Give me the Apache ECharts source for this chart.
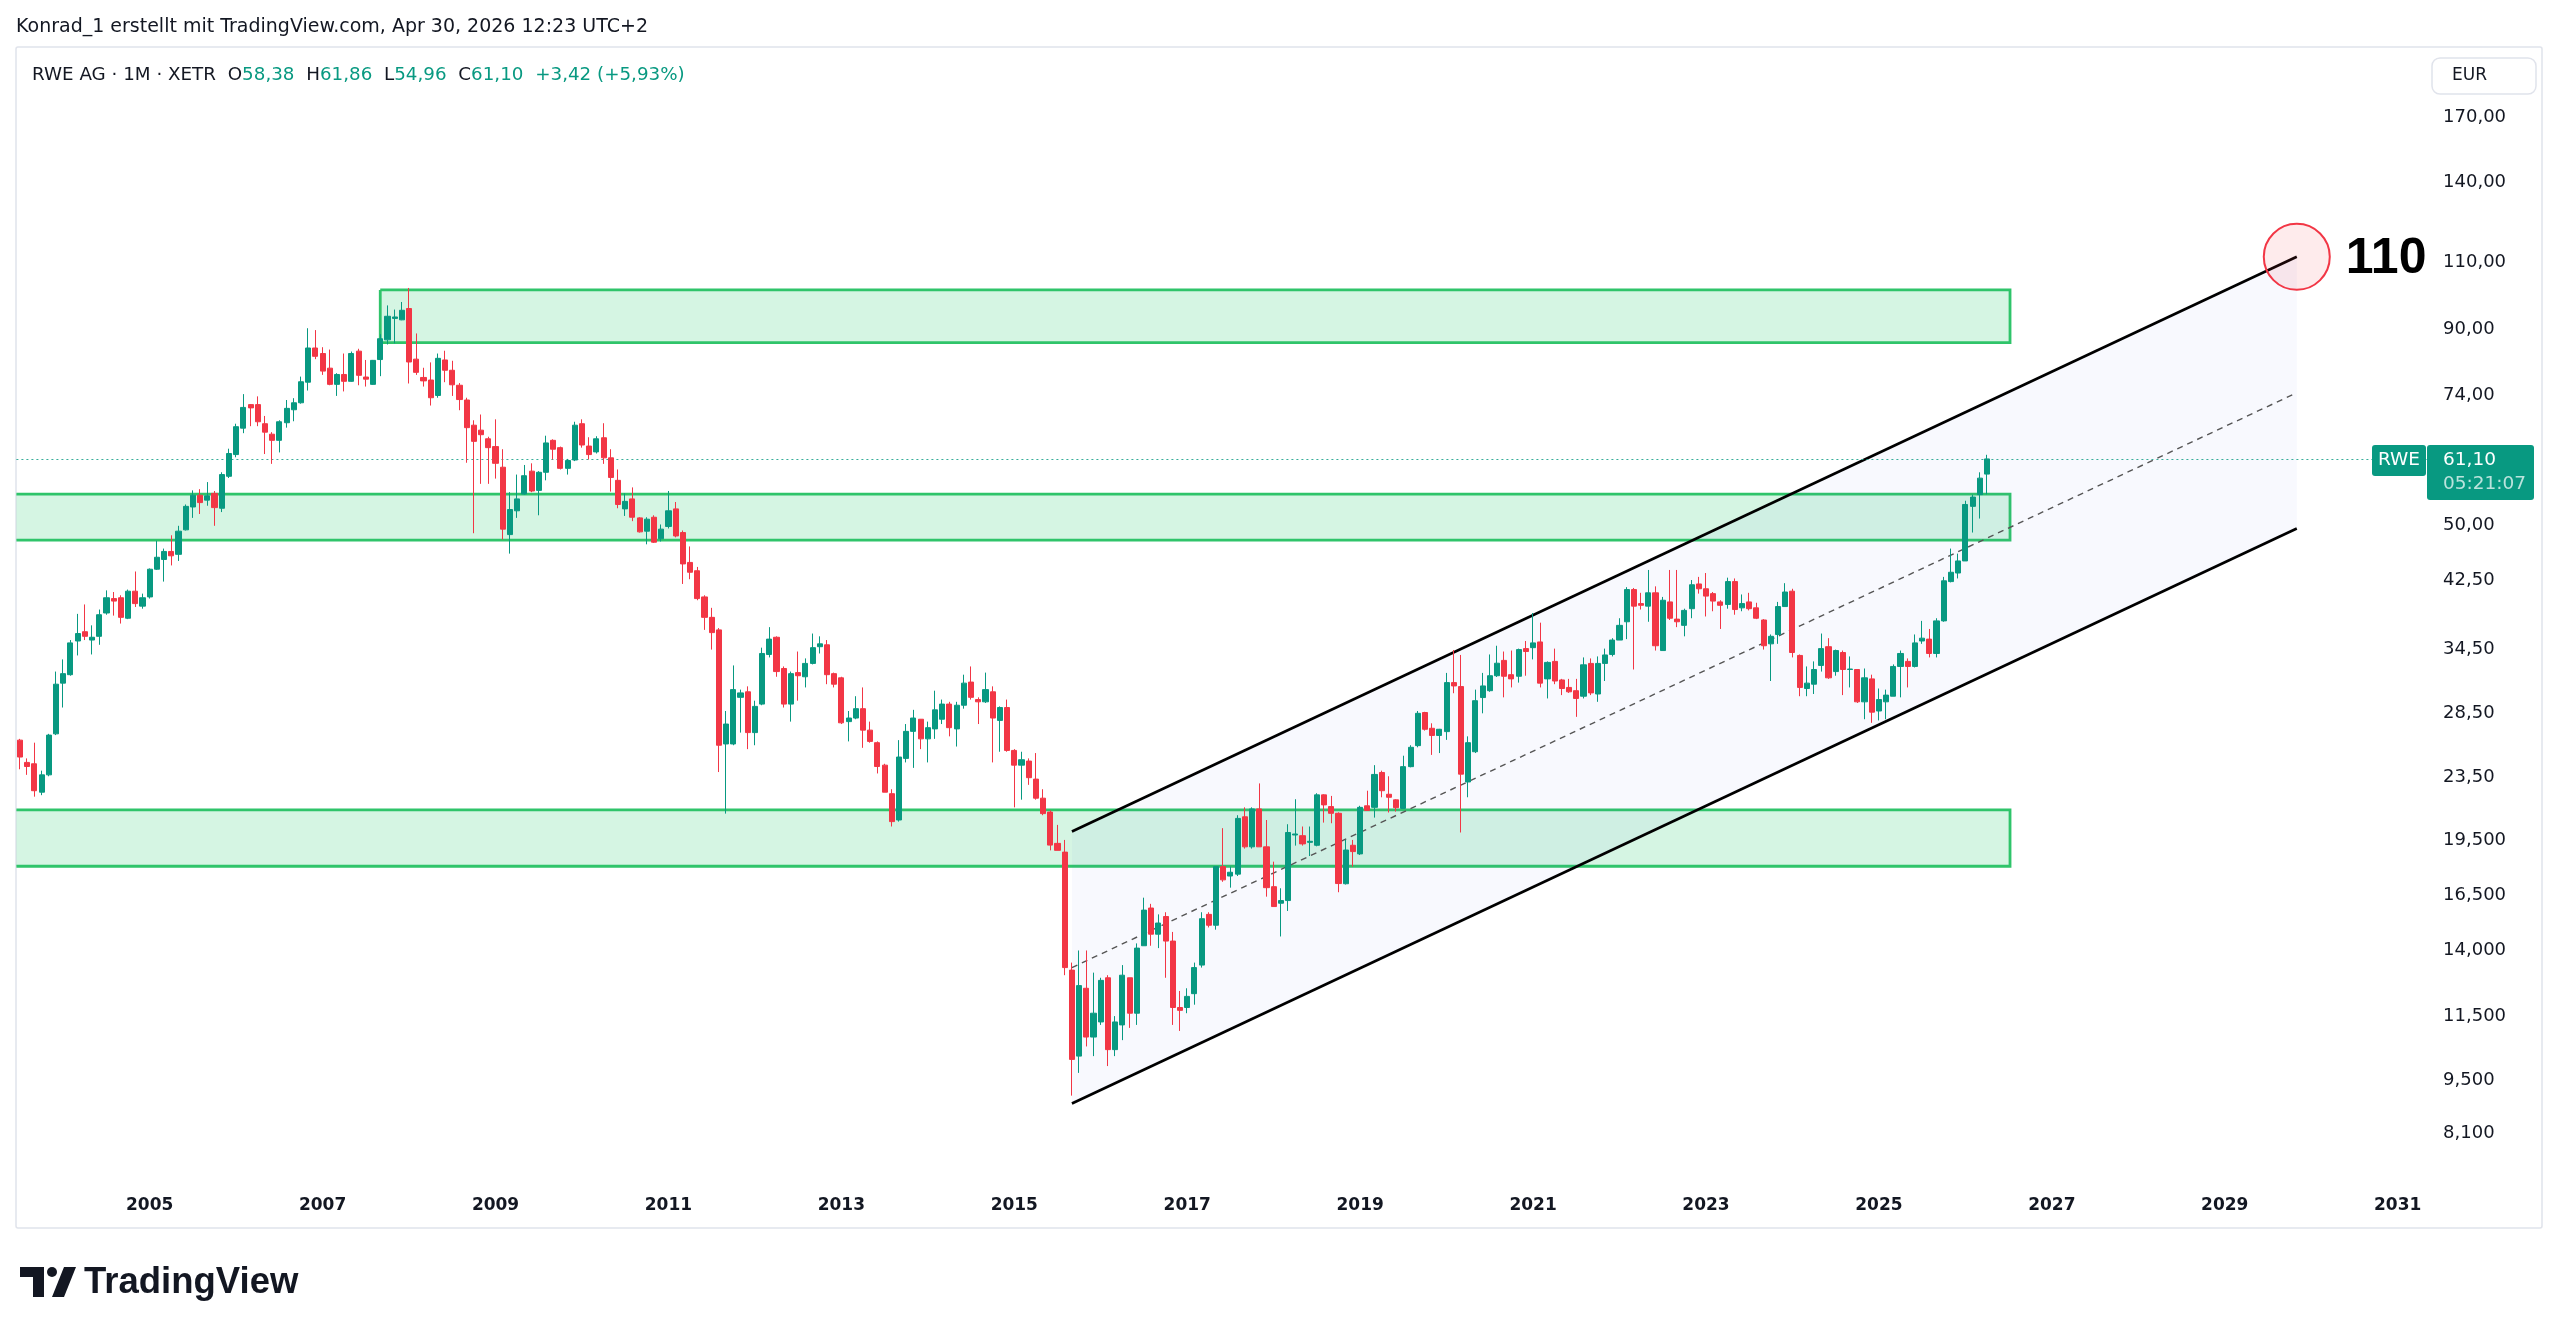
<!DOCTYPE html>
<html>
<head>
<meta charset="utf-8">
<title>RWE AG · 1M · XETR</title>
<script src="https://cdn.jsdelivr.net/npm/echarts@6/dist/echarts.min.js"></script>
<style>
html, body { margin: 0; padding: 0; background: #fff; }
#chart { width: 2560px; height: 1335px; }
</style>
</head>
<body>
<div id="chart"></div>
<script>
// monthly candles, first one is 2003-07
var firstMonth = [2003, 7];
var monthSlots = 335; // time axis runs on into 2031

var openPrices = [
  26.3, 24.6, 24.5, 22.5, 23.7, 26.8,
  31.2, 32.0, 35.4, 36.4, 35.5, 35.9, 38.5, 40.2, 40.3, 37.9, 41.1, 39.3,
  40.4, 43.9, 45.2, 46.3, 45.9, 49.4, 52.9, 54.8, 54.0, 55.1, 52.7, 58.0,
  61.9, 67.0, 71.9, 71.9, 67.9, 65.8, 64.6, 68.1, 70.8, 72.3, 76.9, 85.2,
  83.8, 80.2, 76.4, 78.7, 77.1, 84.4, 78.1, 76.4, 82.3, 87.3, 93.1, 92.7,
  95.9, 82.4, 78.0, 77.4, 73.9, 82.2, 79.7, 76.2, 72.9, 67.6, 66.6, 64.9,
  63.4, 59.6, 48.7, 52.3, 55.0, 58.9, 55.6, 58.7, 64.6, 63.2, 59.4, 60.9,
  67.9, 63.5, 62.4, 65.1, 61.3, 57.3, 52.6, 54.2, 51.2, 49.2, 51.3, 48.1,
  49.9, 52.6, 49.0, 44.8, 43.7, 40.4, 38.0, 36.6, 26.0, 26.0, 29.9, 30.4,
  26.9, 29.3, 34.0, 35.8, 32.6, 29.3, 32.2, 31.8, 33.1, 34.8, 35.0, 32.1,
  31.7, 27.8, 28.1, 28.9, 27.1, 26.1, 24.4, 22.4, 20.7, 24.9, 27.0, 28.0,
  26.4, 27.2, 28.0, 29.3, 27.2, 29.2, 31.3, 29.7, 29.5, 30.4, 27.9, 29.0,
  25.5, 24.4, 24.7, 23.4, 22.1, 21.2, 19.3, 18.8, 13.2, 10.2, 12.5, 10.8,
  11.3, 12.9, 10.4, 11.2, 12.9, 11.6, 14.2, 15.9, 14.7, 15.5, 14.4, 11.8,
  11.8, 12.3, 13.4, 15.6, 15.1, 18.0, 17.5, 17.6, 20.9, 19.1, 21.4, 19.1,
  16.95, 16.13, 16.26, 19.79, 19.75, 19.36, 19.19, 22.32, 21.55, 21.12, 17.1, 19.19,
  18.7, 21.6, 21.5, 23.87, 22.36, 21.99, 21.43, 24.29, 25.87, 28.57, 27.25, 26.67,
  26.98, 31.25, 30.88, 23.2, 25.4, 29.88, 30.5, 31.9, 33.4, 32.0, 31.85, 34.6,
  34.7, 35.3, 31.6, 33.3, 31.5, 30.8, 30.5, 30.0, 33.1, 30.2, 33.1, 34.0,
  35.5, 37.5, 41.3, 39.6, 39.3, 40.9, 34.4, 39.8, 37.8, 37.1, 39.0, 42.0,
  41.4, 40.8, 39.8, 39.5, 42.3, 39.1, 39.8, 39.1, 37.7, 35.1, 36.1, 39.25,
  41.1, 33.9, 30.7, 31.1, 32.9, 34.8, 32.3, 34.2, 32.5, 32.5, 29.5, 31.6,
  28.7, 29.5, 30.0, 32.8, 33.3, 32.8, 35.4, 35.6, 34.1, 37.6, 42.3, 43.4,
  45.0, 53.0, 54.9, 58.38
];
var highPrices = [
  26.4, 24.9, 26.1, 24.0, 26.8, 32.3,
  33.5, 35.5, 38.4, 39.5, 37.1, 38.9, 41.2, 41.0, 40.6, 41.3, 43.6, 40.8,
  44.0, 47.8, 46.7, 48.6, 50.0, 53.3, 55.6, 55.8, 57.0, 55.5, 58.7, 63.0,
  67.9, 74.2, 72.0, 73.7, 69.5, 66.2, 68.6, 72.9, 73.3, 78.2, 90.4, 89.9,
  85.4, 84.8, 79.0, 83.8, 84.3, 85.0, 82.2, 82.2, 88.8, 96.8, 95.6, 97.8,
  102.0, 89.0, 80.3, 81.6, 83.8, 84.5, 82.0, 76.7, 73.4, 68.6, 69.8, 65.3,
  68.8, 62.9, 55.3, 58.3, 60.0, 60.3, 58.9, 65.5, 64.8, 63.4, 61.1, 68.3,
  68.8, 65.2, 65.4, 68.0, 62.9, 59.2, 55.1, 56.1, 51.3, 51.3, 51.6, 50.2,
  55.5, 53.7, 49.3, 47.0, 44.2, 40.6, 39.1, 36.8, 28.7, 32.9, 30.6, 30.9,
  29.6, 34.7, 36.9, 35.9, 32.8, 32.3, 34.3, 33.6, 36.2, 35.9, 35.5, 32.2,
  31.8, 28.7, 30.0, 30.8, 27.8, 26.2, 24.5, 22.7, 26.3, 27.6, 28.8, 28.0,
  27.8, 30.5, 29.7, 29.5, 29.5, 32.0, 32.8, 29.9, 32.2, 30.9, 29.1, 29.7,
  25.6, 25.4, 24.9, 25.3, 22.7, 21.3, 20.4, 19.5, 13.5, 14.0, 14.0, 13.1,
  12.9, 13.0, 11.5, 13.4, 12.9, 14.3, 16.4, 16.1, 15.6, 15.7, 14.8, 12.4,
  12.5, 13.5, 15.7, 15.7, 18.0, 20.2, 18.0, 21.0, 21.5, 21.5, 23.1, 20.7,
  18.27, 16.87, 20.44, 22.03, 20.30, 20.3, 22.43, 22.36, 22.25, 21.18, 19.5, 19.5,
  21.6, 22.6, 24.4, 24.0, 23.6, 22.03, 25.1, 25.9, 28.7, 28.63, 27.66, 27.2,
  32.17, 34.46, 33.95, 26.6, 30.6, 32.17, 34.0, 34.9, 34.3, 34.4, 34.6, 35.4,
  38.5, 37.4, 33.3, 34.6, 31.6, 31.6, 31.6, 33.7, 33.6, 33.8, 34.6, 35.7,
  37.9, 41.6, 41.5, 40.9, 43.8, 41.7, 40.4, 43.8, 43.8, 39.0, 42.5, 42.9,
  43.4, 41.0, 40.0, 42.8, 42.7, 40.7, 40.9, 39.7, 37.8, 36.1, 39.8, 42.1,
  41.4, 34.0, 32.8, 33.3, 36.2, 35.7, 34.5, 34.4, 33.8, 32.5, 32.6, 32.0,
  30.7, 30.6, 33.0, 34.4, 33.6, 36.1, 37.6, 36.7, 37.9, 42.9, 46.7, 46.0,
  53.9, 54.9, 58.7, 61.86
];
var lowPrices = [
  24.1, 23.7, 22.2, 22.3, 23.6, 26.7,
  29.0, 31.9, 33.9, 35.5, 34.0, 35.0, 38.3, 38.2, 37.3, 37.8, 39.2, 39.0,
  40.2, 43.8, 42.3, 44.4, 45.0, 49.3, 51.2, 51.8, 53.1, 50.0, 52.1, 57.7,
  61.4, 66.0, 67.4, 67.4, 62.0, 60.2, 62.3, 67.1, 68.4, 72.1, 75.0, 82.4,
  78.6, 76.2, 73.8, 74.8, 77.0, 76.2, 75.9, 76.3, 78.3, 86.1, 86.4, 92.6,
  76.6, 78.6, 75.9, 71.7, 73.4, 76.9, 73.8, 70.7, 60.4, 48.9, 56.7, 56.7,
  57.6, 48.0, 46.0, 51.2, 54.9, 55.3, 51.6, 57.3, 61.0, 59.2, 58.3, 60.7,
  63.2, 61.0, 62.1, 60.2, 55.4, 52.7, 51.5, 50.7, 49.0, 47.3, 47.5, 47.7,
  49.6, 48.3, 42.0, 42.6, 40.0, 36.6, 34.5, 23.9, 21.1, 25.9, 26.9, 25.6,
  25.9, 29.2, 33.7, 31.8, 29.0, 27.8, 29.6, 30.8, 33.0, 34.1, 31.1, 30.8,
  27.6, 26.2, 28.0, 25.7, 26.1, 23.8, 22.5, 20.3, 20.6, 24.6, 24.2, 25.6,
  24.6, 26.4, 27.6, 26.6, 25.8, 28.9, 29.7, 27.6, 29.4, 24.6, 25.4, 25.4,
  21.5, 22.0, 23.0, 22.0, 21.0, 18.9, 18.9, 13.0, 9.06, 9.7, 10.5, 10.2,
  11.2, 9.9, 10.2, 10.7, 11.1, 11.2, 14.2, 14.2, 14.1, 12.9, 11.2, 11.0,
  11.6, 11.9, 13.3, 15.0, 14.9, 17.2, 16.9, 17.5, 19.0, 19.0, 19.1, 16.45,
  15.97, 14.6, 15.76, 19.17, 19.17, 18.58, 19.13, 20.54, 20.5, 16.67, 17.06, 18.0,
  18.64, 21.3, 20.85, 22.16, 21.17, 21.23, 21.43, 24.24, 25.74, 27.06, 25.16, 25.3,
  26.32, 30.27, 19.94, 22.16, 25.3, 28.5, 30.4, 31.78, 29.9, 30.8, 31.25, 31.9,
  33.5, 30.8, 29.8, 31.1, 30.1, 30.3, 28.2, 29.8, 30.1, 29.5, 31.4, 33.8,
  35.5, 35.6, 32.5, 38.9, 37.5, 34.4, 34.4, 37.7, 36.9, 35.9, 37.9, 40.8,
  38.1, 38.7, 36.7, 39.0, 38.3, 38.7, 38.8, 37.8, 34.5, 31.4, 35.1, 39.25,
  33.7, 30.0, 30.0, 30.2, 32.3, 31.6, 31.9, 30.1, 30.8, 29.4, 28.0, 27.7,
  27.9, 28.0, 30.0, 29.9, 30.8, 32.7, 35.1, 33.7, 33.7, 37.5, 42.2, 42.7,
  45.0, 49.0, 51.1, 54.96
];
var closePrices = [
  25.0, 24.3, 22.6, 23.7, 26.7, 31.1,
  32.1, 35.2, 36.2, 35.9, 35.8, 38.3, 40.3, 39.9, 38.0, 41.1, 39.6, 40.3,
  43.9, 45.5, 46.3, 45.7, 49.2, 53.0, 54.8, 53.6, 54.7, 52.8, 58.3, 62.1,
  67.3, 71.3, 71.2, 68.3, 66.2, 64.6, 68.3, 71.1, 72.3, 77.0, 85.2, 83.1,
  79.5, 76.4, 78.7, 77.1, 83.8, 78.5, 77.6, 82.1, 87.6, 93.7, 93.5, 95.4,
  81.7, 79.2, 77.2, 73.4, 82.6, 79.7, 76.3, 73.0, 67.1, 64.4, 65.7, 63.2,
  60.3, 49.5, 52.5, 54.2, 58.1, 55.5, 58.7, 64.1, 62.9, 59.4, 60.8, 67.6,
  63.7, 61.9, 64.9, 61.3, 57.8, 53.3, 53.8, 51.3, 49.1, 51.0, 47.6, 49.5,
  52.3, 48.5, 44.6, 43.5, 40.2, 38.0, 36.3, 25.9, 27.6, 30.6, 30.3, 26.9,
  29.1, 34.1, 35.6, 32.3, 29.3, 32.1, 31.9, 33.1, 34.7, 35.1, 32.0, 31.1,
  27.7, 28.1, 28.9, 27.1, 26.2, 24.3, 22.5, 20.6, 25.0, 27.0, 28.1, 26.4,
  27.3, 28.8, 29.3, 27.3, 29.2, 31.2, 29.9, 29.5, 30.6, 28.1, 29.0, 25.5,
  24.4, 24.8, 23.5, 22.1, 21.1, 19.2, 18.9, 13.3, 10.1, 12.6, 10.8, 11.6,
  12.8, 10.4, 11.3, 13.0, 11.6, 14.1, 15.8, 14.7, 15.2, 14.4, 11.8, 11.7,
  12.2, 13.3, 15.4, 15.1, 18.0, 17.3, 17.7, 20.8, 19.1, 21.4, 19.1, 16.9,
  15.97, 16.26, 19.94, 19.85, 19.27, 19.42, 22.32, 21.66, 21.12, 17.11, 18.92, 18.83,
  21.5, 21.3, 23.73, 22.6, 22.16, 21.48, 24.29, 25.74, 28.5, 27.17, 26.67, 27.17,
  31.25, 30.94, 23.75, 26.1, 29.6, 30.94, 31.9, 33.12, 31.85, 31.6, 34.5, 34.3,
  35.2, 31.2, 33.2, 31.4, 30.7, 30.4, 29.8, 32.96, 30.3, 33.1, 33.95, 35.5,
  37.1, 41.3, 39.3, 39.4, 40.9, 34.9, 40.0, 37.9, 37.5, 38.8, 41.9, 41.4,
  40.5, 39.9, 39.4, 42.3, 38.9, 39.6, 39.0, 37.9, 34.9, 35.9, 39.25, 41.0,
  34.2, 30.8, 31.2, 32.5, 34.6, 31.7, 34.4, 32.5, 32.55, 29.5, 31.7, 28.6,
  29.7, 30.1, 32.8, 34.1, 32.8, 35.2, 35.7, 34.1, 37.6, 42.4, 43.5, 45.0,
  53.3, 54.5, 57.68, 61.10
];

var priceTicks = [170, 140, 110, 90, 74, 50, 42.5, 34.5, 28.5, 23.5, 19.5, 16.5, 14, 11.5, 9.5, 8.1];

// drawings: x in months counted from the first candle, y in EUR
var zones = [
  [50, 276.2, 86.6, 101.4],
  [-6, 276.2, 47.9, 54.97],
  [-6, 276.2, 18.02, 21.34]
];
var channelUpper = [[146, 20.0], [316, 112.0]];
var channelLower = [[146, 8.85], [316, 49.6]];
var channelMid = [[146, 13.3], [316, 74.5]];
var targetPoint = [316, 112.0];
var targetText = '110';
var countdown = '05:21:07';

var UP = '#089981', DOWN = '#f23645', INK = '#131722';
var FONT = 'DejaVu Sans';

var months = [];
for (var k = 0; k < monthSlots; k++) {
  var m = firstMonth[1] - 1 + k;
  var yr = firstMonth[0] + Math.floor(m / 12);
  var mo = m % 12 + 1;
  months.push(yr + '-' + (mo < 10 ? '0' : '') + mo);
}
var candles = [];
for (var i = 0; i < closePrices.length; i++) {
  candles.push([openPrices[i], closePrices[i], lowPrices[i], highPrices[i]]);
}

function comma(v, d) { return v.toFixed(d).replace('.', ','); }
function tickText(v) { return comma(v, v >= 20 ? 2 : 3); }
function yearTick(idx, val) {
  var y = +val.slice(0, 4);
  return val.slice(5) === '01' && y % 2 === 1 && y >= 2005;
}

var chart = echarts.init(document.getElementById('chart'));

chart.setOption({
  animation: false,
  backgroundColor: '#ffffff',
  grid: {
    left: 16.4, top: 48, width: monthSlots * 7.205, height: 1132,
    outerBoundsMode: 'none'
  },
  xAxis: [{
    type: 'category',
    data: months,
    boundaryGap: true,
    axisLine: { show: false },
    axisTick: { show: false },
    splitLine: { show: false },
    axisLabel: {
      interval: yearTick,
      formatter: function (v) { return v.slice(0, 4); },
      color: INK, fontFamily: FONT, fontWeight: 'bold', fontSize: 17, margin: 17
    }
  }, {
    type: 'value',
    min: -0.5, max: monthSlots - 0.5,
    show: false
  }],
  yAxis: {
    type: 'log',
    position: 'right',
    min: 7.036, max: 209.4,
    axisLine: { show: false },
    axisTick: { show: false },
    splitLine: { show: false },
    axisLabel: {
      customValues: priceTicks,
      formatter: tickText,
      color: INK, fontFamily: FONT, fontSize: 18, margin: 13, align: 'left'
    }
  },
  series: [{
    type: 'custom',
    name: 'zones',
    xAxisIndex: 1,
    z: 1,
    silent: true,
    data: zones,
    renderItem: function (params, api) {
      var a = api.coord([api.value(0), api.value(3)]);
      var b = api.coord([api.value(1), api.value(2)]);
      var cs = params.coordSys;
      var x0 = a[0], x1 = b[0], y0 = a[1], y1 = b[1];
      var cut = x0 < cs.x;
      if (cut) x0 = cs.x;
      var pts = cut ? [[x0, y0], [x1, y0], [x1, y1], [x0, y1]]
                    : [[x0, y0], [x1, y0], [x1, y1], [x0, y1], [x0, y0]];
      return {
        type: 'group',
        children: [
          { type: 'rect', shape: { x: x0, y: y0, width: x1 - x0, height: y1 - y0 },
            style: { fill: 'rgba(46,204,113,0.2)' } },
          { type: 'polyline', shape: { points: pts },
            style: { stroke: '#2fc46a', lineWidth: 2.8, fill: null } }
        ]
      };
    }
  }, {
    type: 'custom',
    name: 'channel fill',
    xAxisIndex: 1,
    z: 2,
    silent: true,
    data: [[0]],
    renderItem: function (params, api) {
      var pts = [
        api.coord(channelUpper[0]), api.coord(channelUpper[1]),
        api.coord(channelLower[1]), api.coord(channelLower[0])
      ];
      return { type: 'polygon', shape: { points: pts },
        style: { fill: 'rgba(80,100,240,0.04)' } };
    }
  }, {
    type: 'line', xAxisIndex: 1, z: 3, silent: true, showSymbol: false,
    data: channelUpper, lineStyle: { color: '#000', width: 2.6 }
  }, {
    type: 'line', xAxisIndex: 1, z: 3, silent: true, showSymbol: false,
    data: channelLower, lineStyle: { color: '#000', width: 2.6 }
  }, {
    type: 'line', xAxisIndex: 1, z: 3, silent: true, showSymbol: false,
    data: channelMid, lineStyle: { color: '#555', width: 1.4, type: [6, 5] }
  }, {
    type: 'candlestick',
    name: 'RWE',
    z: 5,
    barWidth: 5.6,
    data: candles,
    itemStyle: {
      color: UP, color0: DOWN,
      borderColor: UP, borderColor0: DOWN,
      borderWidth: 1
    },
    markLine: {
      silent: true,
      symbol: 'none',
      label: { show: false },
      lineStyle: { color: '#22a58f', type: [2, 3], width: 1.2, opacity: 0.9 },
      data: [{ yAxis: closePrices[closePrices.length - 1] }]
    }
  }, {
    type: 'custom',
    name: 'target',
    xAxisIndex: 1,
    z: 6,
    silent: true,
    data: [targetPoint],
    renderItem: function (params, api) {
      var c = api.coord([api.value(0), api.value(1)]);
      return {
        type: 'group',
        children: [
          { type: 'circle', shape: { cx: c[0], cy: c[1], r: 33 },
            style: { fill: 'rgba(242,54,69,0.1)', stroke: DOWN, lineWidth: 2 } },
          { type: 'text', style: { text: targetText, x: c[0] + 49, y: c[1] + 2,
            verticalAlign: 'middle', fill: '#000',
            font: 'bold 50px "Liberation Sans", Arial, sans-serif' } }
        ]
      };
    }
  }]
});

// header, price tag, frame and logo
var n = closePrices.length - 1;
var chg = closePrices[n] - closePrices[n - 1];
var pct = chg / closePrices[n - 1] * 100;
var sign = function (v) { return v >= 0 ? '+' : ''; };
var legend = '{k|RWE AG · 1M · XETR}  {k|O}{v|' + comma(openPrices[n], 2) + '}  {k|H}{v|' +
  comma(highPrices[n], 2) + '}  {k|L}{v|' + comma(lowPrices[n], 2) + '}  {k|C}{v|' +
  comma(closePrices[n], 2) + '}  {v|' + sign(chg) + comma(chg, 2) + ' (' + sign(pct) + comma(pct, 2) + '%)}';

var py = chart.convertToPixel({ yAxisIndex: 0 }, closePrices[n]);
var f18 = '18.5px "' + FONT + '", sans-serif';

chart.setOption({
  graphic: [
    { type: 'rect', z: -1, silent: true,
      shape: { x: 16, y: 47, width: 2526, height: 1181, r: 2 },
      style: { fill: null, stroke: '#e0e3eb', lineWidth: 1.5 } },
    { type: 'text', silent: true,
      style: { text: 'Konrad_1 erstellt mit TradingView.com, Apr 30, 2026 12:23 UTC+2',
        x: 16, y: 27, verticalAlign: 'middle', fill: INK, font: '19px "' + FONT + '", sans-serif' } },
    { type: 'text', silent: true,
      style: { text: legend, x: 32, y: 75, verticalAlign: 'middle', font: f18,
        rich: {
          k: { fill: INK, fontFamily: FONT, fontSize: 18.3 },
          v: { fill: UP, fontFamily: FONT, fontSize: 18.3 }
        } } },
    { type: 'rect', silent: true,
      shape: { x: 2432, y: 58, width: 104, height: 36, r: 8 },
      style: { fill: '#fff', stroke: '#e0e3eb', lineWidth: 1.5 } },
    { type: 'text', silent: true,
      style: { text: 'EUR', x: 2452, y: 76, verticalAlign: 'middle', fill: INK,
        font: '17px "' + FONT + '", sans-serif' } },
    { type: 'rect', silent: true, z: 10,
      shape: { x: 2372, y: py - 14, width: 54, height: 31, r: 3 },
      style: { fill: UP } },
    { type: 'text', silent: true, z: 11,
      style: { text: 'RWE', x: 2399, y: py + 1, align: 'center', verticalAlign: 'middle',
        fill: '#fff', font: f18 } },
    { type: 'rect', silent: true, z: 10,
      shape: { x: 2427, y: py - 14, width: 107, height: 55, r: 3 },
      style: { fill: UP } },
    { type: 'text', silent: true, z: 11,
      style: { text: comma(closePrices[n], 2), x: 2443, y: py + 1, verticalAlign: 'middle',
        fill: '#fff', font: f18 } },
    { type: 'text', silent: true, z: 11,
      style: { text: countdown, x: 2443, y: py + 25, verticalAlign: 'middle',
        fill: 'rgba(255,255,255,0.72)', font: f18 } },
    { type: 'group', silent: true, children: [
      { type: 'rect', shape: { x: 20, y: 1267, width: 24, height: 10 }, style: { fill: INK } },
      { type: 'rect', shape: { x: 33, y: 1267, width: 11, height: 30 }, style: { fill: INK } },
      { type: 'circle', shape: { cx: 52, cy: 1272, r: 5 }, style: { fill: INK } },
      { type: 'polygon', shape: { points: [[52, 1297], [64, 1267], [76, 1267], [64, 1297]] },
        style: { fill: INK } },
      { type: 'text', style: { text: 'TradingView', x: 84, y: 1283, verticalAlign: 'middle',
        fill: INK, font: 'bold 36.5px "Liberation Sans", Arial, sans-serif' } }
    ] }
  ]
});

window.addEventListener('resize', function () { chart.resize(); });
</script>
</body>
</html>
